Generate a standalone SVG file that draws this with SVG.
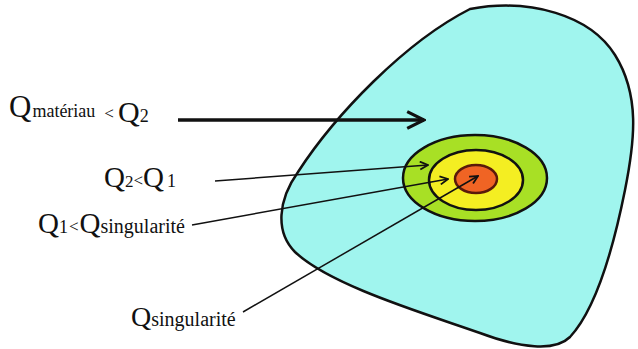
<svg xmlns="http://www.w3.org/2000/svg" width="638" height="349" viewBox="0 0 638 349">
<style>
text{font-family:"Liberation Serif","Times New Roman","DejaVu Serif",serif;fill:#111}
.ln{stroke:#111;fill:none}
</style>
<defs>
<marker id="ah" viewBox="0 0 10 10" refX="9" refY="5" markerWidth="10" markerHeight="10" markerUnits="userSpaceOnUse" orient="auto">
<path d="M1,1 L9,5 L1,9" fill="none" stroke="#111" stroke-width="1.8"/>
</marker>
<marker id="ahb" viewBox="0 0 10 10" refX="9" refY="5" markerWidth="6" markerHeight="7" orient="auto">
<path d="M1,1 L9,5 L1,9" fill="none" stroke="#111" stroke-width="1.5"/>
</marker>
</defs>
<rect width="638" height="349" fill="#fff"/>
<g id="materiau">
<path d="M470,9 C530,-2 590,15 615,55 C640,95 635,140 625,190 C612,255 595,310 570,337 C555,352 520,348 480,333 C420,312 330,285 295,252 C275,232 278,200 298,172 C335,115 405,42 470,9 Z" fill="#a0f5ee" stroke="#111" stroke-width="2.5"/>
</g>
<g id="zone1">
<ellipse cx="475" cy="178" rx="72" ry="43" fill="#a8e025" stroke="#111" stroke-width="2.5"/>
</g>
<g id="zone2">
<ellipse cx="476" cy="180" rx="47" ry="30" fill="#f4ee22" stroke="#111" stroke-width="2.5"/>
</g>
<g id="singularite">
<ellipse cx="476" cy="179" rx="21" ry="14" fill="#f06424" stroke="#5a1a0a" stroke-width="2.5"/>
</g>
<g id="connectors">
<line x1="178" y1="120" x2="424" y2="120" class="ln" stroke-width="3.5" marker-end="url(#ahb)"/>
<line x1="215" y1="181" x2="428" y2="165" class="ln" stroke-width="1.5" marker-end="url(#ah)"/>
<line x1="192" y1="225" x2="448" y2="179" class="ln" stroke-width="1.5" marker-end="url(#ah)"/>
<line x1="243" y1="312" x2="478" y2="176" class="ln" stroke-width="1.5" marker-end="url(#ah)"/>
</g>
<g id="label-materiau">
<text x="9" y="117"><tspan font-size="31">Q</tspan><tspan font-size="18" dx="1">matériau</tspan><tspan font-size="17" dx="9" dy="2">&lt;</tspan><tspan font-size="30" dx="4" dy="3">Q</tspan><tspan font-size="18">2</tspan></text>
</g>
<g id="label-q2q1">
<text x="104" y="187"><tspan font-size="29">Q</tspan><tspan font-size="17">2</tspan><tspan font-size="17" dy="-1">&lt;</tspan><tspan font-size="29" dy="1">Q</tspan><tspan font-size="18" dx="3">1</tspan></text>
</g>
<g id="label-q1qs">
<text x="38" y="233"><tspan font-size="29">Q</tspan><tspan font-size="18">1</tspan><tspan font-size="17" dx="1" dy="-1">&lt;</tspan><tspan font-size="29" dx="1" dy="1">Q</tspan><tspan font-size="20">singularité</tspan></text>
</g>
<g id="label-qs">
<text x="131" y="326"><tspan font-size="28">Q</tspan><tspan font-size="20">singularité</tspan></text>
</g>
</svg>
